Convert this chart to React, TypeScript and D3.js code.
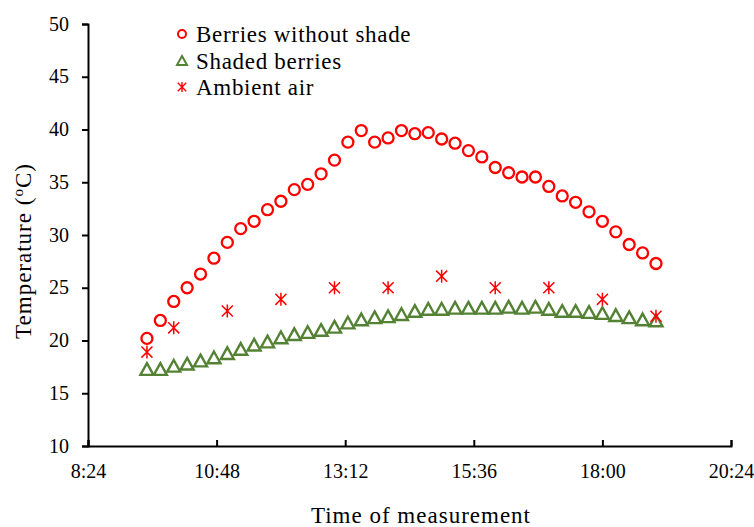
import { useEffect, useRef } from 'react';
import * as d3 from 'd3';

// measurement times (every 15 min) for berry temperatures
const berryTimes = [
  '9:30', '9:45', '10:00', '10:15', '10:30', '10:45', '11:00', '11:15', '11:30', '11:45',
  '12:00', '12:15', '12:30', '12:45', '13:00', '13:15', '13:30', '13:45', '14:00', '14:15',
  '14:30', '14:45', '15:00', '15:15', '15:30', '15:45', '16:00', '16:15', '16:30', '16:45',
  '17:00', '17:15', '17:30', '17:45', '18:00', '18:15', '18:30', '18:45', '19:00',
];
const unshaded = [
  20.2, 21.9, 23.7, 25.0, 26.3, 27.8, 29.3, 30.6, 31.3, 32.4,
  33.2, 34.3, 34.8, 35.8, 37.1, 38.8, 39.9, 38.8, 39.2, 39.9,
  39.6, 39.7, 39.1, 38.7, 38.0, 37.4, 36.4, 35.9, 35.5, 35.5,
  34.6, 33.7, 33.1, 32.2, 31.3, 30.3, 29.1, 28.3, 27.3,
];
const shaded = [
  17.3, 17.3, 17.6, 17.8, 18.1, 18.4, 18.8, 19.2, 19.6, 19.9,
  20.3, 20.6, 20.8, 21.0, 21.3, 21.7, 22.0, 22.2, 22.3, 22.5,
  22.8, 23.0, 23.0, 23.1, 23.1, 23.1, 23.1, 23.2, 23.1, 23.2,
  23.0, 22.8, 22.8, 22.7, 22.6, 22.4, 22.2, 22.0, 21.9,
];
// ambient air, hourly
const airTimes = ['9:30', '10:00', '11:00', '12:00', '13:00', '14:00', '15:00', '16:00', '17:00', '18:00', '19:00'];
const ambient = [18.9, 21.2, 22.8, 23.9, 25.0, 25.0, 26.1, 25.0, 25.0, 23.9, 22.3];

const xTickLabels = ['8:24', '10:48', '13:12', '15:36', '18:00', '20:24'];
const yTicks = [10, 15, 20, 25, 30, 35, 40, 45, 50];
const legendLabels = ['Berries without shade', 'Shaded berries', 'Ambient air'];

const RED = '#ff0000';
const GREEN = '#548235';
const FONT = "'Liberation Serif', 'DejaVu Serif', serif";

const toMin = (t: string) => {
  const [h, m] = t.split(':').map(Number);
  return h * 60 + m;
};

const triPath = (s: number) => {
  const h = s * 0.9;
  return `M0,${-h / 2}L${s / 2},${h / 2}L${-s / 2},${h / 2}Z`;
};
const starPath = (s: number) => {
  const r = s / 2;
  const d = r * 0.85;
  return `M0,${-r}V${r}M${-d},${-d}L${d},${d}M${d},${-d}L${-d},${d}`;
};

export default function App() {
  const ref = useRef<SVGSVGElement>(null);

  useEffect(() => {
    const svg = d3.select(ref.current);
    svg.selectAll('*').remove();

    const left = 88;
    const right = 731;
    const top = 24;
    const bottom = 446;

    const xTicks = xTickLabels.map(toMin);
    const x = d3.scaleLinear().domain([xTicks[0], xTicks[xTicks.length - 1]]).range([left, right]);
    const y = d3.scaleLinear().domain([10, 50]).range([bottom, top]);

    // X axis, ticks pointing inward
    const gx = svg
      .append('g')
      .attr('transform', 'translate(0,' + bottom + ')')
      .call(
        d3
          .axisBottom(x)
          .tickValues(xTicks)
          .tickFormat((_d, i) => xTickLabels[i])
          .tickSizeInner(-6)
          .tickSizeOuter(-6)
      )
      .attr('font-family', FONT)
      .attr('font-size', 20);
    gx.selectAll('path, line').attr('stroke', '#000').attr('stroke-width', 2);
    gx.selectAll('text').attr('y', 32).attr('dy', 0).attr('fill', '#000');

    // Y axis
    const gy = svg
      .append('g')
      .attr('transform', 'translate(' + left + ',0)')
      .call(d3.axisLeft(y).tickValues(yTicks).tickSize(6).tickPadding(13))
      .attr('font-family', FONT)
      .attr('font-size', 20);
    gy.selectAll('path, line').attr('stroke', '#000').attr('stroke-width', 2);
    gy.selectAll('text').attr('fill', '#000').attr('dy', '0.3em');

    // unshaded berries
    svg
      .append('g')
      .selectAll('circle')
      .data(unshaded)
      .join('circle')
      .attr('cx', (_d, i) => x(toMin(berryTimes[i])))
      .attr('cy', (d) => y(d))
      .attr('r', 5.5)
      .attr('fill', 'none')
      .attr('stroke', RED)
      .attr('stroke-width', 2.3);

    // shaded berries
    svg
      .append('g')
      .selectAll('path')
      .data(shaded)
      .join('path')
      .attr('transform', (d, i) => `translate(${x(toMin(berryTimes[i]))},${y(d)})`)
      .attr('d', triPath(13))
      .attr('fill', 'none')
      .attr('stroke', GREEN)
      .attr('stroke-width', 2.4);

    // ambient air
    svg
      .append('g')
      .selectAll('path')
      .data(ambient)
      .join('path')
      .attr('transform', (d, i) => `translate(${x(toMin(airTimes[i]))},${y(d)})`)
      .attr('d', starPath(13))
      .attr('fill', 'none')
      .attr('stroke', RED)
      .attr('stroke-width', 1.5);

    // legend
    const legend = svg.append('g').attr('transform', 'translate(182,34)');
    const rowH = 26.5;
    legend.append('circle').attr('cx', 0).attr('cy', 0).attr('r', 4).attr('fill', 'none').attr('stroke', RED).attr('stroke-width', 2);
    legend
      .append('path')
      .attr('transform', `translate(0,${rowH})`)
      .attr('d', triPath(10))
      .attr('fill', 'none')
      .attr('stroke', GREEN)
      .attr('stroke-width', 2);
    legend
      .append('path')
      .attr('transform', `translate(0,${rowH * 2})`)
      .attr('d', starPath(10))
      .attr('fill', 'none')
      .attr('stroke', RED)
      .attr('stroke-width', 1.4);
    legend
      .selectAll('text')
      .data(legendLabels)
      .join('text')
      .attr('x', 14)
      .attr('y', (_d, i) => i * rowH + 8)
      .attr('fill', '#000')
      .attr('letter-spacing', 0.7)
      .attr('font-family', FONT)
      .attr('font-size', 23)
      .text((d) => d);

    // axis titles
    svg
      .append('text')
      .attr('x', 421)
      .attr('y', 523)
      .attr('text-anchor', 'middle')
      .attr('letter-spacing', 1)
      .attr('font-family', FONT)
      .attr('font-size', 23)
      .text('Time of measurement');

    const yt = svg
      .append('text')
      .attr('transform', 'translate(31,251) rotate(-90)')
      .attr('text-anchor', 'middle')
      .attr('letter-spacing', 1)
      .attr('font-family', FONT)
      .attr('font-size', 23);
    yt.append('tspan').text('Temperature (');
    yt.append('tspan').attr('dy', -8).attr('font-size', 15).text('o');
    yt.append('tspan').attr('dy', 8).text('C)');
  }, []);

  return (
    <svg
      ref={ref}
      width={754}
      height={527}
      style={{ position: 'absolute', left: 0, top: 0, background: '#fff' }}
    />
  );
}
